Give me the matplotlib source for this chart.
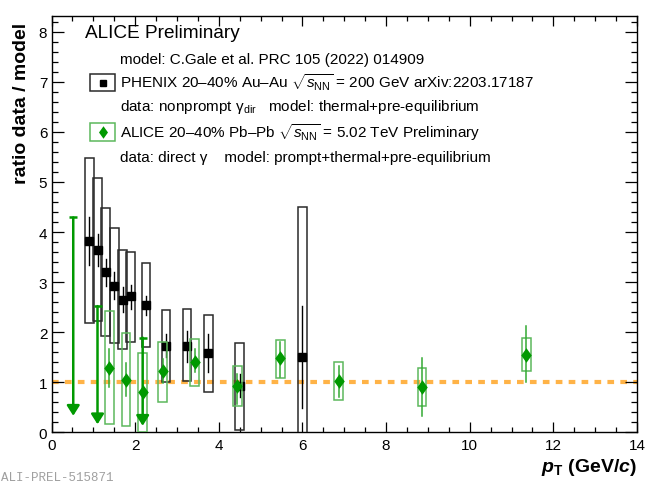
import matplotlib
matplotlib.use("Agg")
import matplotlib.pyplot as plt
from matplotlib.patches import Rectangle
from matplotlib.lines import Line2D
from matplotlib.ticker import MultipleLocator

plt.rcParams['font.family'] = ['Liberation Sans', 'DejaVu Sans']
plt.rcParams['mathtext.fontset'] = 'custom'
plt.rcParams['mathtext.rm'] = 'Liberation Sans'
plt.rcParams['mathtext.it'] = 'Liberation Sans:italic'
plt.rcParams['mathtext.bf'] = 'Liberation Sans:bold'
plt.rcParams['mathtext.bfit'] = 'Liberation Sans:bold:italic'

# PHENIX 20-40% Au-Au, nonprompt direct photons / model
phenix_pt = [0.90, 1.10, 1.30, 1.50, 1.70, 1.89, 2.26, 2.74, 3.24, 3.75, 4.50, 6.00]
phenix_ratio = [3.83, 3.65, 3.20, 2.93, 2.65, 2.72, 2.55, 1.72, 1.73, 1.59, 0.93, 1.50]
phenix_stat_hi = [4.30, 3.97, 3.47, 3.20, 2.90, 2.95, 2.73, 1.97, 2.03, 1.97, 1.17, 2.52]
phenix_stat_lo = [3.35, 3.33, 2.93, 2.67, 2.40, 2.47, 2.35, 1.50, 1.40, 1.20, 0.71, 0.48]
phenix_syst_hi = [5.48, 5.07, 4.47, 4.09, 3.65, 3.60, 3.39, 2.45, 2.47, 2.35, 1.78, 4.50]
phenix_syst_lo = [2.19, 2.23, 1.93, 1.78, 1.67, 1.81, 1.71, 1.00, 1.03, 0.81, 0.05, -0.50]

# ALICE 20-40% Pb-Pb, direct photons / model
alice_pt = [1.38, 1.78, 2.18, 2.66, 3.42, 4.44, 5.47, 6.87, 8.86, 11.35]
alice_ratio = [1.29, 1.05, 0.80, 1.22, 1.40, 0.93, 1.48, 1.02, 0.91, 1.55]
alice_stat_hi = [1.67, 1.38, None, 1.46, 1.67, 1.17, 1.80, 1.33, 1.49, 2.12]
alice_stat_lo = [0.90, 0.72, None, 0.99, 1.20, 0.57, 1.10, 0.70, 0.33, 1.00]
alice_syst_hi = [2.42, 1.98, 1.59, 1.81, 1.87, 1.32, 1.85, 1.41, 1.29, 1.89]
alice_syst_lo = [0.16, 0.12, 0.00, 0.61, 0.93, 0.53, 1.08, 0.64, 0.53, 1.22]

# ALICE upper limits (arrows)
ul_pt = [0.52, 1.10, 2.18]
ul_top = [4.29, 2.52, 1.89]
ul_tip = [0.33, 0.16, 0.13]

GREEN = '#009900'
GREEN_BOX = '#5cb85c'
ORANGE = '#ffb347'
W = 646
H = 485
DIAMOND = [(0, 1), (0.72, 0), (0, -1), (-0.72, 0), (0, 1)]

fig = plt.figure(figsize=(6.46, 4.85), dpi=100)
ax = fig.add_axes([51.5 / W, 1 - 433.3 / H, (637 - 51.5) / W, (433.3 - 16.7) / H])
ax.set_xlim(0, 14)
ax.set_ylim(0, 8.32)

# reference line at 1
ax.plot([0, 14], [1, 1], color=ORANGE, lw=3, dashes=(1.6, 1.5), dash_capstyle='butt', zorder=1)

hw = 0.105
# PHENIX
for i in range(len(phenix_pt)):
    x = phenix_pt[i]
    ax.add_patch(Rectangle((x - hw, phenix_syst_lo[i]), 2 * hw, phenix_syst_hi[i] - phenix_syst_lo[i],
                           fill=False, edgecolor='#2a2a2a', lw=1.1, zorder=3))
    ax.plot([x, x], [phenix_stat_lo[i], phenix_stat_hi[i]], color='black', lw=1.0, zorder=4)
ax.plot(phenix_pt, phenix_ratio, 's', color='black', ms=6, zorder=5)

# ALICE
for i in range(len(alice_pt)):
    x = alice_pt[i]
    ax.add_patch(Rectangle((x - hw, alice_syst_lo[i]), 2 * hw, alice_syst_hi[i] - alice_syst_lo[i],
                           fill=False, edgecolor=GREEN_BOX, lw=1.1, zorder=6))
    if alice_stat_hi[i] is not None:
        ax.plot([x, x], [alice_stat_lo[i], alice_stat_hi[i]], color='#33aa33', lw=1.1, zorder=7)
ax.plot(alice_pt, alice_ratio, marker=DIAMOND, ls='none', color=GREEN, ms=10.5, mew=0, zorder=8)

for i in range(len(ul_pt)):
    ax.annotate('', xy=(ul_pt[i], ul_tip[i]), xytext=(ul_pt[i], ul_top[i]),
                arrowprops=dict(arrowstyle='-|>,head_length=0.6,head_width=0.38', color=GREEN,
                                lw=1.8, shrinkA=0, shrinkB=0), zorder=9)
    ax.plot([ul_pt[i]], [ul_top[i]], '_', color=GREEN, ms=6, mew=1.8, zorder=9)

# ticks
ax.xaxis.set_major_locator(MultipleLocator(2))
ax.xaxis.set_minor_locator(MultipleLocator(0.5))
ax.yaxis.set_major_locator(MultipleLocator(1))
ax.yaxis.set_minor_locator(MultipleLocator(0.2))
ax.tick_params(which='both', direction='in', top=True, right=True, width=0.9, labelsize=11)
ax.tick_params(axis='x', which='major', length=7, pad=4)
ax.tick_params(axis='x', which='minor', length=3.6)
ax.tick_params(axis='y', which='major', length=8.5, pad=3)
ax.tick_params(axis='y', which='minor', length=4.3)
for sp in ax.spines.values():
    sp.set_linewidth(1.0)

# axis titles
fig.text(22 / W, 1 - 103 / H, 'ratio data / model', rotation=90, ha='center', va='center',
         fontsize=14, fontweight='bold')
fig.text(637 / W, 1 - 468 / H, r'$\mathbfit{p}_{\mathbf{T}}$ (GeV/$\mathbfit{c}$)', ha='right', va='center',
         fontsize=14, fontweight='bold')

# header and legend
fig.text(85 / W, 1 - 33 / H, 'ALICE Preliminary', ha='left', va='center', fontsize=13.7)
lx = 120 / W
fs = 11
fig.text(lx, 1 - 60 / H, 'model: C.Gale et al. PRC 105 (2022) 014909', va='center', fontsize=fs)
fig.text(lx, 1 - 83 / H, r'PHENIX 20–40% Au–Au $\sqrt{s_{\mathrm{NN}}}$ = 200 GeV arXiv:2203.17187',
         va='center', fontsize=fs)
fig.text(lx, 1 - 107 / H, r'data: nonprompt γ$_{\mathrm{dir}}$   model: thermal+pre-equilibrium',
         va='center', fontsize=fs)
fig.text(lx, 1 - 133 / H, r'ALICE 20–40% Pb–Pb $\sqrt{s_{\mathrm{NN}}}$ = 5.02 TeV Preliminary',
         va='center', fontsize=fs)
fig.text(lx, 1 - 158 / H, 'data: direct γ    model: prompt+thermal+pre-equilibrium',
         va='center', fontsize=fs)

fig.add_artist(Rectangle((90 / W, 1 - 92 / H), 25 / W, 17 / H, transform=fig.transFigure,
                         fill=False, edgecolor='#2a2a2a', lw=1.1))
fig.add_artist(Line2D([102.5 / W], [1 - 83.5 / H], transform=fig.transFigure, marker='s',
                      color='black', ms=5, ls='none'))
fig.add_artist(Rectangle((90 / W, 1 - 142 / H), 25 / W, 18 / H, transform=fig.transFigure,
                         fill=False, edgecolor=GREEN_BOX, lw=1.1))
fig.add_artist(Line2D([102.5 / W], [1 - 133 / H], transform=fig.transFigure, marker=DIAMOND,
                      color=GREEN, ms=9, mew=0, ls='none'))

fig.text(1 / W, 1 - 472 / H, 'ALI-PREL-515871', ha='left', va='top', fontsize=9,
         color='#a0a0a0', family='Liberation Mono')

fig.savefig('out.png', dpi=100)
